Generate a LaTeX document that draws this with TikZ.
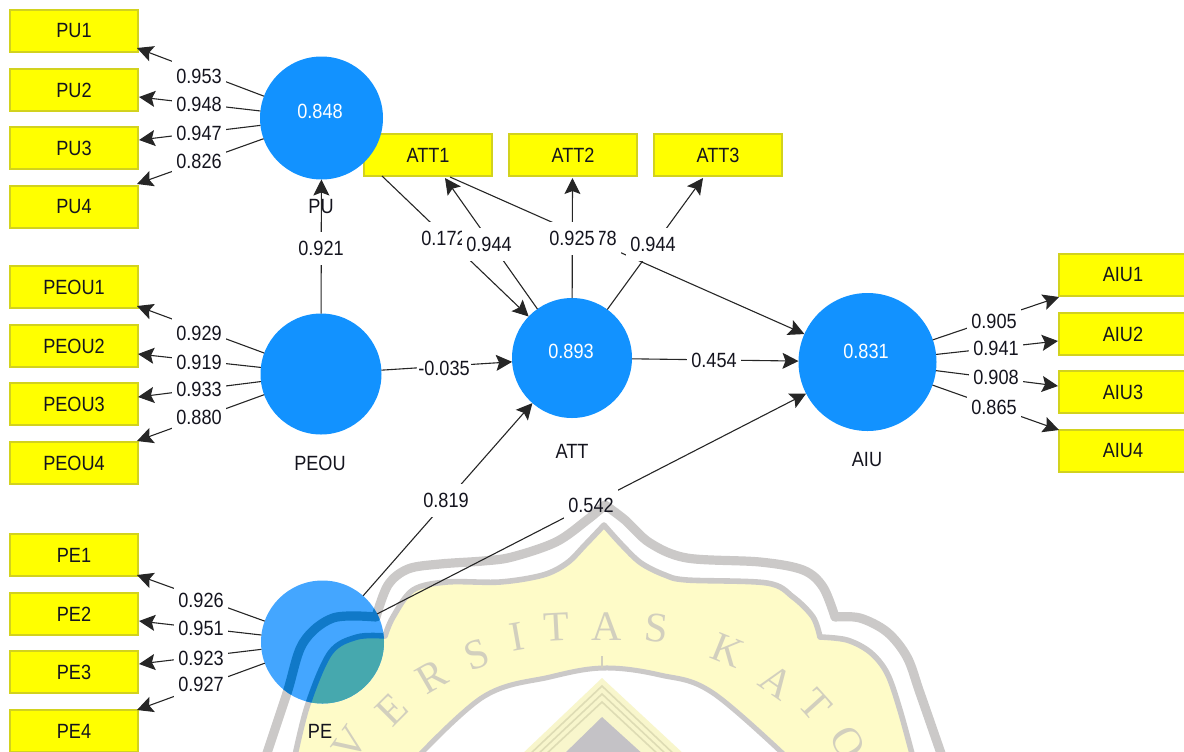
\documentclass[tikz,border=0pt]{standalone}
\usepackage{fontspec}
\setmainfont[FakeStretch=0.88]{Liberation Sans}
\newfontfamily\wmfont{Liberation Serif}
\usetikzlibrary{arrows.meta,shapes.geometric}
\definecolor{boxyellow}{HTML}{FFFF00}
\definecolor{boxedge}{HTML}{D2D21E}
\definecolor{circblue}{HTML}{1292FF}
\definecolor{circlight}{HTML}{44A6FF}
\definecolor{circdark}{HTML}{1079C8}
\definecolor{circteal}{HTML}{46A8AE}
\definecolor{wmgray}{HTML}{CBC9C8}
\definecolor{wmyellow}{HTML}{FEFBC8}
\definecolor{wmpale}{HTML}{F8F6CC}
\definecolor{wmstripe}{HTML}{DEDCB4}
\definecolor{wmcore}{HTML}{C4C2C6}
\definecolor{wmletter}{HTML}{D2CFBE}
\definecolor{inkc}{HTML}{14141E}
\tikzset{
  txt/.style={font=\fontsize{10.3}{12}\selectfont,text=inkc,inner sep=0pt},
  ind/.style={txt,draw=boxedge,line width=0.6pt,fill=boxyellow,minimum width=64pt,minimum height=21pt,outer sep=0pt},
  lat/.style={circle,fill=circblue,inner sep=0pt,outer sep=0pt},
  val/.style={txt,text=white},
  lab/.style={txt,fill=white,minimum width=27pt,minimum height=16.5pt},
  con/.style={line width=0.55pt,draw=black!85,-{Stealth[length=8pt,width=8pt,inset=1.5pt]}},
  wmlet/.style={font=\wmfont\fontsize{21}{21}\selectfont,text=wmletter,inner sep=0pt},
  wmouter/.style={line width=4.6pt,line join=round},
  wminner/.style={line width=2.8pt,line join=round},
}
\newcommand{\wmOuterPath}{
    plot[smooth,tension=.55] coordinates {(263,765) (287,693) (303,643) (333,618) (376,617)}
    -- plot[smooth,tension=.55] coordinates {(376,617) (388,585) (408,569) (440,564) (483,561) (512,557) (556,542) (587,520) (605,505)}
    -- plot[smooth,tension=.55] coordinates {(605,505) (625,520) (650,543) (687,558) (760,562) (803,570) (823,587) (835,617)}
    -- plot[smooth,tension=.55] coordinates {(835,617) (860,618) (887,632) (907,657) (920,693) (945,765)}}
\newcommand{\wmInnerPath}{
    plot[smooth,tension=.55] coordinates {(293,765) (307,707) (330,653) (357,637) (385,636)}
    -- plot[smooth,tension=.55] coordinates {(385,636) (393,617) (413,590) (447,582) (500,582) (543,575) (567,563) (585,545) (604,525)}
    -- plot[smooth,tension=.55] coordinates {(604,525) (622,545) (641,563) (665,575) (687,580) (767,583) (793,597) (813,617) (820,637)}
    -- plot[smooth,tension=.55] coordinates {(820,637) (847,640) (870,652) (887,673) (900,710) (915,765)} -- cycle}
\begin{document}
\begin{tikzpicture}[x=0.5pt,y=-0.5pt]
\useasboundingbox (0,0) rectangle (1184,751);
\clip (0,0) rectangle (1184,751);
% watermark
\filldraw[draw=wmgray,fill=wmyellow,wminner] \wmInnerPath;
\draw[draw=wmgray,wmouter] \wmOuterPath;
\filldraw[draw=wmgray,line width=2.5pt,fill=white]
  plot[smooth,tension=.6] coordinates {(410,765) (483,697) (550,677) (604,668) (660,675) (713,693) (795,765)} -- cycle;
\draw[draw=wmletter,line width=1pt] (602,656) -- (602,668);
\fill[wmpale] (602,678) -- (520,756) -- (686,756) -- cycle;
\foreach \d in {686,694,702}
  {\draw[draw=wmstripe,line width=0.8pt] ({520+\d-678},756) -- (602,\d) -- ({684-\d+678},756);}
\fill[wmcore] (602,717) -- (562,756) -- (645,756) -- cycle;
\foreach \x/\y/\a/\c in {350/743/55/V,392/710/45/E,432/677/30/R,477/655/20/S,517/637/10/I,
  557/627/3/T,607/627/0/A,657/628/-6/S,728/650/-22/K,777/682/-35/A,815/705/-48/T,848/743/-60/O}
  {\node[wmlet,rotate=\a] at (\x,\y) {\c};}
% indicators
\node[ind] (PU1) at (74,31) {PU1};
\node[ind] (PU2) at (74,90) {PU2};
\node[ind] (PU3) at (74,148) {PU3};
\node[ind] (PU4) at (74,207) {PU4};
\node[ind] (PEOU1) at (74,287) {PEOU1};
\node[ind] (PEOU2) at (74,346) {PEOU2};
\node[ind] (PEOU3) at (74,404) {PEOU3};
\node[ind] (PEOU4) at (74,463) {PEOU4};
\node[ind] (PE1) at (74,555) {PE1};
\node[ind] (PE2) at (74,614) {PE2};
\node[ind] (PE3) at (74,672) {PE3};
\node[ind] (PE4) at (74,731) {PE4};
\node[ind] (ATT1) at (428,155) {ATT1};
\node[ind] (ATT2) at (573,155) {ATT2};
\node[ind] (ATT3) at (718,155) {ATT3};
\node[ind,anchor=west] (AIU1) at (1059,275) {AIU1};
\node[ind,anchor=west] (AIU2) at (1059,334) {AIU2};
\node[ind,anchor=west] (AIU3) at (1059,392) {AIU3};
\node[ind,anchor=west] (AIU4) at (1059,451) {AIU4};
% latent variables
\node[lat,minimum size=61.5pt] (PU) at (321.5,118) {};
\node[lat,minimum size=60.5pt] (PEOU) at (321,374) {};
\node[lat,minimum size=60pt] (ATT) at (572,358) {};
\node[lat,minimum size=69pt] (AIU) at (867.5,362) {};
\node[lat,fill=circlight,minimum size=61.5pt] (PE) at (322.5,642) {};
\begin{scope}
  \clip (PE) circle (61.5);
  \filldraw[draw=circdark,fill=circteal,wminner] \wmInnerPath;
  \draw[draw=circdark,wmouter] \wmOuterPath;
\end{scope}
\node[val] (vPU) at (320,111) {0.848};
\node[val] (vATT) at (571,351) {0.893};
\node[val] (vAIU) at (866,351) {0.831};
\node[txt] (nPU) at (321,207) {PU};
\node[txt] (nPEOU) at (320,463) {PEOU};
\node[txt] (nATT) at (572,451) {ATT};
\node[txt] (nAIU) at (867,460) {AIU};
\node[txt] (nPE) at (320,731) {PE};
% free arrow ends
\coordinate (tPU1) at (137,48); \coordinate (tPU2) at (139,97);
\coordinate (tPU3) at (139,140); \coordinate (tPU4) at (137,184);
\coordinate (tPEOU1) at (137,306); \coordinate (tPEOU2) at (138,354);
\coordinate (tPEOU3) at (138,397); \coordinate (tPEOU4) at (137,441);
\coordinate (tPE1) at (137,575); \coordinate (tPE2) at (139,621);
\coordinate (tPE3) at (139,664); \coordinate (tPE4) at (137,710);
\coordinate (tAIU1) at (1059,297); \coordinate (tAIU2) at (1058,341);
\coordinate (tAIU3) at (1058,386); \coordinate (tAIU4) at (1059,430);
\coordinate (tATT1) at (445,178); \coordinate (tATT2) at (572.5,178);
\coordinate (tATT3) at (703,178);
\coordinate (sATT1a) at (382,176); \coordinate (sATT1b) at (450,177);
% connectors
\foreach \s/\t in {PU/tPU1,PU/tPU2,PU/tPU3,PU/tPU4,
  PEOU/tPEOU1,PEOU/tPEOU2,PEOU/tPEOU3,PEOU/tPEOU4,
  PE/tPE1,PE/tPE2,PE/tPE3,PE/tPE4,
  AIU/tAIU1,AIU/tAIU2,AIU/tAIU3,AIU/tAIU4,
  ATT/tATT1,ATT/tATT2,ATT/tATT3,
  PEOU/PU,PEOU/ATT,ATT/AIU,PE/ATT,PE/AIU,sATT1a/ATT,sATT1b/AIU}
  {\draw[con] (\s) -- (\t);}
% labels
\foreach \x/\y/\v in {199/76/0.953,199/104/0.948,199/133/0.947,199/161/0.826,
  199/333/0.929,199/362/0.919,199/389/0.933,199/417/0.880,
  201/600/0.926,201/628/0.951,201/658/0.923,201/684/0.927,
  994/321/0.905,996/348/0.941,996/377/0.908,994/407/0.865,
  321/248/0.921,444/368/-0.035,714/360/0.454,446/500/0.819,
  444/238/0.172,489/244/0.944,594/238/0.278,572/238/0.925,653/244/0.944}
  {\node[lab] at (\x,\y) {\v};}
% the 0.542 label: its white patch lies under the crest of the watermark
\node[lab] (gap542) at (591,505) {};
\begin{scope}
  \clip (gap542.south west) rectangle (gap542.north east);
  \draw[draw=wmgray,wmouter] \wmOuterPath;
\end{scope}
\node[txt] (t542) at (591,505) {0.542};
\end{tikzpicture}
\end{document}
